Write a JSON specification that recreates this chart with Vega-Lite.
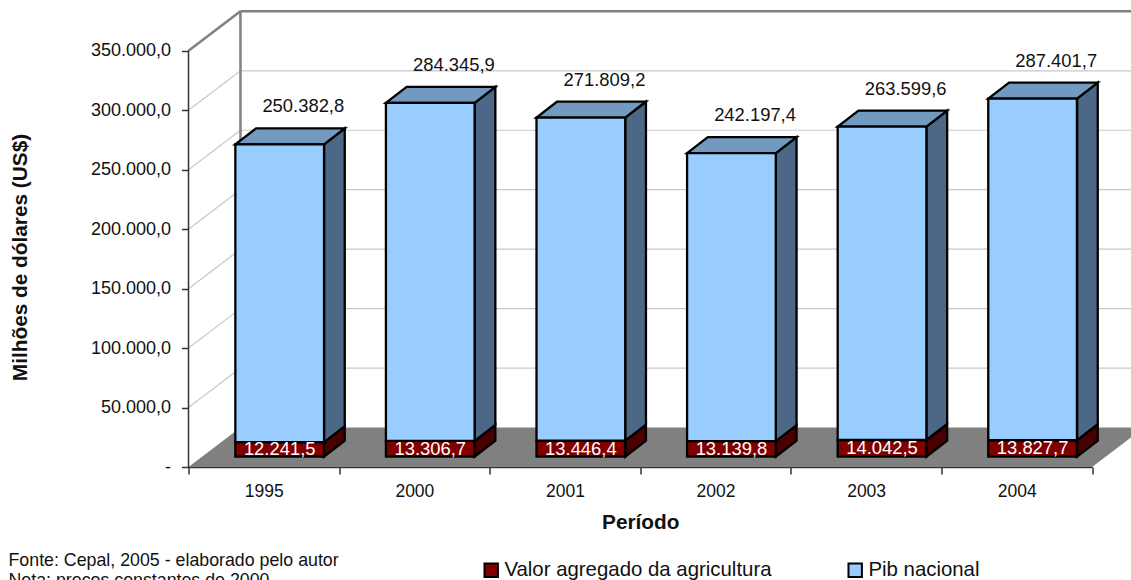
{
"$schema":"https://vega.github.io/schema/vega-lite/v6.json",
"width":942.5,"height":457,
"autosize":{"type":"none"},
"padding":{"left":188.5,"top":10,"right":0,"bottom":113},
"background":"white",
"config":{"view":{"stroke":null},"font":"Liberation Sans"},
"title":{"text":["Fonte: Cepal, 2005 - elaborado pelo autor","Nota: preços constantes de 2000"],"orient":"bottom","anchor":"start","frame":"group","dx":-180,"dy":-33,"offset":4,"fontSize":17.8,"fontWeight":"normal","font":"Liberation Sans","color":"#111111","lineHeight":19.5},
"data":{"values":[
{"year":"1995","series":"Valor agregado da agricultura","value":12241.5},
{"year":"1995","series":"Pib nacional","value":250382.8},
{"year":"2000","series":"Valor agregado da agricultura","value":13306.7},
{"year":"2000","series":"Pib nacional","value":284345.9},
{"year":"2001","series":"Valor agregado da agricultura","value":13446.4},
{"year":"2001","series":"Pib nacional","value":271809.2},
{"year":"2002","series":"Valor agregado da agricultura","value":13139.8},
{"year":"2002","series":"Pib nacional","value":242197.4},
{"year":"2003","series":"Valor agregado da agricultura","value":14042.5},
{"year":"2003","series":"Pib nacional","value":263599.6},
{"year":"2004","series":"Valor agregado da agricultura","value":13827.7},
{"year":"2004","series":"Pib nacional","value":287401.7}
]},
"transform":[
{"stack":"value","groupby":["year"],"sort":[{"field":"series","order":"descending"}],"as":["y0","y1"]},
{"window":[{"op":"dense_rank","as":"rank"}],"sort":[{"field":"year"}]},
{"calculate":"datum.rank-1","as":"i"},
{"calculate":"datum.y0+8660","as":"b0"},
{"calculate":"datum.y1+8660","as":"b1"},
{"calculate":"(datum.b0+datum.b1)/2","as":"bm"},
{"calculate":"replace(replace(format(datum.value,',.1f'),'.',','),',','.')","as":"lab"}
],
"layer":[
{"data":{"values":[{"v":50000},{"v":100000},{"v":150000},{"v":200000},{"v":250000},{"v":300000}]},
 "transform":[{"calculate":"datum.v+33220","as":"w"},{"calculate":"0.345","as":"a"},{"calculate":"6.345","as":"b"}],
 "mark":{"type":"rule","color":"#c8c8c8","strokeWidth":1.2,"clip":true},
 "encoding":{"x":{"field":"a","type":"quantitative","axis":null,"scale":{"domain":[0,6.2583],"nice":false,"zero":false}},"x2":{"field":"b"},
 "y":{"field":"w","type":"quantitative","scale":{"domain":[0,384360],"nice":false},"axis":{"values":[0,50000,100000,150000,200000,250000,300000,350000],"labelExpr":"datum.value==0?'-':replace(replace(format(datum.value,',.1f'),'.',','),',','.')","domain":false,"grid":false,"tickColor":"#333333","tickSize":7,"tickWidth":1.5,"labelFontSize":18,"labelColor":"#111111","labelPadding":11,"labelFont":"Liberation Sans","title":"Milhões de dólares (US$)","titleFont":"Liberation Sans","titleFontSize":20.8,"titleFontWeight":"bold","titleColor":"#111111","titleX":-158,"titleY":247,"titleAngle":-90}}}},
{"data":{"values":[{"v":50000},{"v":100000},{"v":150000},{"v":200000},{"v":250000},{"v":300000}]},
 "transform":[{"calculate":"datum.v+33220","as":"w"},{"calculate":"0","as":"a"},{"calculate":"0.345","as":"b"}],
 "mark":{"type":"rule","color":"#c8c8c8","strokeWidth":1.2},
 "encoding":{"x":{"field":"a","type":"quantitative","axis":null,"scale":{"domain":[0,6.2583],"nice":false,"zero":false}},"x2":{"field":"b"},"y":{"field":"v","type":"quantitative"},"y2":{"field":"w"}}},
{"data":{"values":[{"v":350000}]},
 "transform":[{"calculate":"datum.v+33220","as":"w"},{"calculate":"0.345","as":"a"},{"calculate":"6.345","as":"b"}],
 "mark":{"type":"rule","color":"#808080","strokeWidth":2.5,"clip":true},
 "encoding":{"x":{"field":"a","type":"quantitative","axis":null,"scale":{"domain":[0,6.2583],"nice":false,"zero":false}},"x2":{"field":"b"},"y":{"field":"w","type":"quantitative"}}},
{"data":{"values":[{"v":350000}]},
 "transform":[{"calculate":"datum.v+33220","as":"w"},{"calculate":"0","as":"a"},{"calculate":"0.345","as":"b"}],
 "mark":{"type":"rule","color":"#808080","strokeWidth":2.5},
 "encoding":{"x":{"field":"a","type":"quantitative","axis":null,"scale":{"domain":[0,6.2583],"nice":false,"zero":false}},"x2":{"field":"b"},"y":{"field":"v","type":"quantitative"},"y2":{"field":"w"}}},
{"data":{"values":[{"v":350000}]},
 "transform":[{"calculate":"datum.v+33220","as":"w"},{"calculate":"33220","as":"w0"},{"calculate":"0.345","as":"a"}],
 "mark":{"type":"rule","color":"#808080","strokeWidth":2.5},
 "encoding":{"x":{"field":"a","type":"quantitative","axis":null,"scale":{"domain":[0,6.2583],"nice":false,"zero":false}},"y":{"field":"w0","type":"quantitative"},"y2":{"field":"w"}}},
{"data":{"values":[{"k":0},{"k":1}]},
 "transform":[{"calculate":"datum.k*33220","as":"fy"},{"calculate":"datum.k*0.345","as":"fa"},{"calculate":"6+datum.k*0.345","as":"fb"}],
 "mark":{"type":"area","orient":"horizontal","color":"#808080","clip":true},
 "encoding":{"y":{"field":"fy","type":"quantitative"},"x":{"field":"fa","type":"quantitative","axis":null,"scale":{"domain":[0,6.2583],"nice":false,"zero":false}},"x2":{"field":"fb"}}},
{"data":{"values":[{"v":350000}]},
 "transform":[{"calculate":"0","as":"a"},{"calculate":"0","as":"z"}],
 "mark":{"type":"rule","color":"#333333","strokeWidth":1.5},
 "encoding":{"x":{"field":"a","type":"quantitative","axis":null,"scale":{"domain":[0,6.2583],"nice":false,"zero":false}},
  "y":{"field":"z","type":"quantitative"},
  "y2":{"field":"v"}}},
{"transform":[{"calculate":"[0,1]","as":"k"},{"flatten":["k"]},{"calculate":"datum.i+0.9+datum.k*0.1375","as":"sx"},{"calculate":"datum.b1+datum.k*13460","as":"st"},{"calculate":"datum.b0+datum.k*13460","as":"sb"}],
 "mark":{"type":"area","stroke":"black","strokeWidth":2.3,"strokeJoin":"miter"},
 "encoding":{"x":{"field":"sx","type":"quantitative","axis":null,"scale":{"domain":[0,6.2583],"nice":false,"zero":false}},"y":{"field":"st","type":"quantitative"},"y2":{"field":"sb"},"detail":[{"field":"year"},{"field":"series"}],
 "fill":{"condition":{"test":"datum.series=='Pib nacional'","value":"#4d6886"},"value":"#480000"}}},
{"transform":[{"filter":"datum.series=='Pib nacional'"},{"calculate":"[0,1]","as":"k"},{"flatten":["k"]},{"calculate":"datum.i+0.311+datum.k*0.1375","as":"tx0"},{"calculate":"datum.i+0.9+datum.k*0.1375","as":"tx1"},{"calculate":"datum.b1+datum.k*13460","as":"ty"}],
 "mark":{"type":"area","orient":"horizontal","color":"#7299c0","stroke":"black","strokeWidth":2.3,"strokeJoin":"miter"},
 "encoding":{"y":{"field":"ty","type":"quantitative"},"x":{"field":"tx0","type":"quantitative","axis":null,"scale":{"domain":[0,6.2583],"nice":false,"zero":false}},"x2":{"field":"tx1"},"detail":{"field":"year"}}},
{"mark":{"type":"bar","width":88.7,"xOffset":15.9,"stroke":"black","strokeWidth":2.3},
 "encoding":{"x":{"field":"year","type":"nominal","scale":{"range":[0,903.5],"paddingInner":0,"paddingOuter":0},"axis":{"tickBand":"extent","labelAngle":0,"domainColor":"#333333","domainWidth":1.5,"tickColor":"#333333","tickSize":7,"tickWidth":1.5,"labelFontSize":17.5,"labelColor":"#111111","labelPadding":8,"labelFont":"Liberation Sans","title":"Período","titleFont":"Liberation Sans","titleFontSize":20.8,"titleFontWeight":"bold","titleColor":"#111111","titlePadding":13}},
 "y":{"field":"b1","type":"quantitative"},"y2":{"field":"b0"},
 "fill":{"field":"series","type":"nominal","scale":{"domain":["Valor agregado da agricultura","Pib nacional"],"range":["#800000","#99ccff"]},
  "legend":{"orient":"none","legendX":292.5,"legendY":550,"direction":"horizontal","columns":2,"title":null,"symbolType":"square","symbolSize":180,"symbolStrokeColor":"black","symbolStrokeWidth":2,"labelFontSize":20.4,"labelFont":"Liberation Sans","labelColor":"#111111","columnPadding":72,"labelOffset":3,"labelLimit":320}}}},
{"transform":[{"filter":"datum.series=='Pib nacional'"}],
 "mark":{"type":"text","fontSize":18.4,"font":"Liberation Sans","color":"#111111","xOffset":39.5,"yOffset":-38,"baseline":"middle"},
 "encoding":{"x":{"field":"year","type":"nominal","axis":null,"scale":{"range":[0,903.5],"paddingInner":0,"paddingOuter":0}},"y":{"field":"b1","type":"quantitative"},"text":{"field":"lab"}}},
{"transform":[{"filter":"datum.series!='Pib nacional'"}],
 "mark":{"type":"text","fontSize":18.4,"font":"Liberation Sans","color":"white","xOffset":15.9,"baseline":"middle"},
 "encoding":{"x":{"field":"year","type":"nominal","axis":null,"scale":{"range":[0,903.5],"paddingInner":0,"paddingOuter":0}},"y":{"field":"bm","type":"quantitative"},"text":{"field":"lab"}}}
],
"resolve":{"scale":{"x":"independent","fill":"independent"},"axis":{"x":"independent"}}
}
